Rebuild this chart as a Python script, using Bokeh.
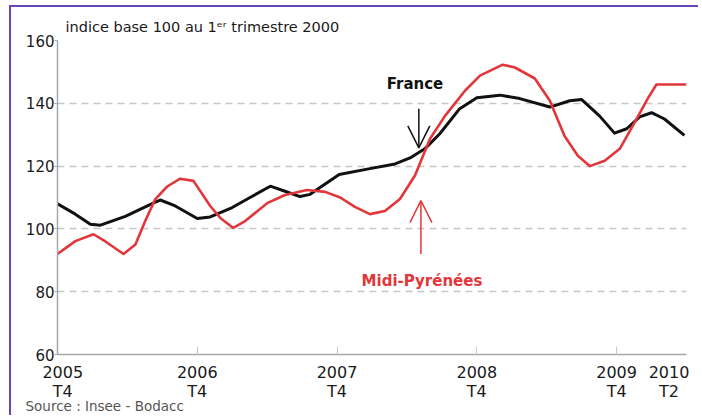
from bokeh.plotting import figure
from bokeh.models import Range1d, FixedTicker, Label, Arrow, OpenHead, Title
from bokeh.embed import file_html
from bokeh.resources import INLINE

# x = quarters elapsed since 2005 T4
france_x = [0, 0.51, 0.94, 1.23, 1.94, 2.8, 2.94, 3.37, 4, 4.37, 5, 5.51, 6.09, 6.51,
            6.94, 7.23, 8.06, 8.94, 9.66, 10.09, 10.51, 10.94, 11.51, 12, 12.66, 13.23,
            14.09, 14.66, 15, 15.51, 15.94, 16.29, 16.66, 17, 17.37, 17.94]
france_y = [108, 104.7, 101.5, 101.2, 104, 108.5, 109.2, 107.3, 103.3, 103.8, 106.8, 110,
            113.6, 112, 110.3, 111, 117.3, 119.2, 120.7, 122.6, 125.5, 130.3, 138.3, 141.8,
            142.6, 141.5, 138.8, 140.8, 141.2, 136, 130.5, 131.9, 135.7, 137, 135, 129.8]

midi_x = [0, 0.51, 1.03, 1.37, 1.89, 2.23, 2.51, 2.8, 3.14, 3.51, 3.89, 4.37, 4.66, 5.03,
          5.37, 6, 6.51, 7.14, 7.66, 8.09, 8.51, 8.94, 9.37, 9.8, 10.23, 10.66, 11.09,
          11.66, 12.09, 12.74, 13.09, 13.66, 14.09, 14.51, 14.89, 15.23, 15.66, 16.09,
          16.51, 16.89, 17.14, 18]
midi_y = [92, 96.1, 98.3, 96, 92, 95, 102.5, 109.5, 113.5, 116, 115.3, 107.3, 103.5, 100.3,
          102.5, 108.2, 110.8, 112.4, 111.8, 110, 107, 104.7, 105.7, 109.5, 117, 128.7, 136,
          144, 148.8, 152.3, 151.4, 147.9, 140.8, 129.6, 123.3, 120, 121.7, 125.5,
          133.8, 141.5, 146, 146]

y_ticks = [60, 80, 100, 120, 140, 160]
x_label_pos = [0.15, 4, 8, 12, 16, 17.5]
x_labels = ["2005\nT4", "2006\nT4", "2007\nT4", "2008\nT4", "2009\nT4", "2010\nT2"]
x_marks = [4, 8, 12, 16]

TITLE = "indice base 100 au 1ᵉʳ trimestre 2000"
SOURCE = "Source : Insee - Bodacc"

RED = "#e3363b"
BLACK = "#111111"
FONT = "DejaVu Sans"

p = figure(width=689, height=410, output_backend="svg", toolbar_location=None,
           x_range=Range1d(0, 18), y_range=Range1d(60, 160),
           min_border_left=46, min_border_right=14, min_border_top=33, min_border_bottom=63)
p.margin = (7, 0, 0, 11)
p.styles = {"box-shadow": "-2px -2px 0 0 #6b45b5"}
p.outline_line_color = None
p.background_fill_color = "white"
p.border_fill_color = "white"

p.title = Title(text=TITLE, align="left", offset=8, standoff=12, text_font=FONT,
                text_font_size="14.5px", text_font_style="normal", text_color="#1a1a1a")
p.add_layout(Title(text=SOURCE, align="left", offset=-32, standoff=-16, text_font=FONT,
                   text_font_size="13.5px", text_font_style="normal", text_color="#555555"),
             "below")

p.xgrid.visible = False
p.ygrid.grid_line_color = "#c6c6c6"
p.ygrid.grid_line_dash = "7 5"
p.ygrid.grid_line_width = 1.5

xa = p.xaxis[0]
xa.ticker = FixedTicker(ticks=x_label_pos, minor_ticks=x_marks)
xa.major_label_overrides = dict(zip(x_label_pos, x_labels))
xa.axis_line_color = "#a8a8a8"
xa.axis_line_width = 1.5
xa.major_tick_line_color = None
xa.minor_tick_in = 8
xa.minor_tick_out = 0
xa.minor_tick_line_color = "#c8c8c8"
xa.major_label_text_font = FONT
xa.major_label_text_font_size = "16px"
xa.major_label_text_color = "#1a1a1a"
xa.major_label_text_line_height = 1.0
xa.major_label_standoff = 2

ya = p.yaxis[0]
ya.ticker = FixedTicker(ticks=y_ticks, minor_ticks=[])
ya.axis_line_color = "#a8a8a8"
ya.axis_line_width = 1.5
ya.major_tick_in = 0
ya.major_tick_out = 3
ya.major_tick_line_color = "#a8a8a8"
ya.major_label_text_font = FONT
ya.major_label_text_font_size = "15px"
ya.major_label_text_color = "#1a1a1a"
ya.major_label_standoff = 0

p.line(france_x, france_y, line_color=BLACK, line_width=3, line_join="round")
p.line(midi_x, midi_y, line_color=RED, line_width=2.6, line_join="round")

# annotations
p.add_layout(Arrow(end=OpenHead(size=22, line_color=BLACK, line_width=1.5),
                   x_start=10.34, y_start=138.3, x_end=10.34, y_end=125.8,
                   line_color=BLACK, line_width=1.5))
p.add_layout(Arrow(end=OpenHead(size=22, line_color=RED, line_width=1.5),
                   x_start=10.4, y_start=92, x_end=10.4, y_end=109,
                   line_color=RED, line_width=1.5))
p.add_layout(Label(x=10.23, y=146.3, text="France", text_font=FONT, text_font_size="15px",
                   text_font_style="bold", text_color=BLACK, text_align="center",
                   text_baseline="middle"))
p.add_layout(Label(x=10.43, y=83.3, text="Midi-Pyrénées", text_font=FONT,
                   text_font_size="15px", text_font_style="bold", text_color=RED,
                   text_align="center", text_baseline="middle"))

open("out.html", "w").write(file_html(p, INLINE))
